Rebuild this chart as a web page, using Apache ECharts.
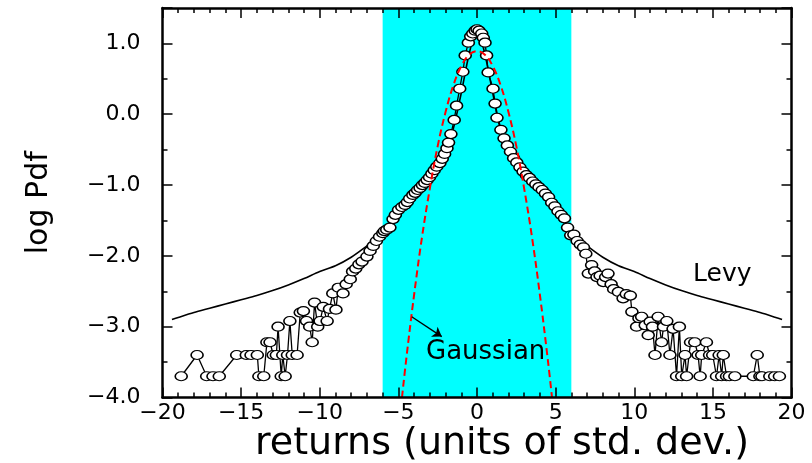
<!DOCTYPE html>
<html>
<head>
<meta charset="utf-8">
<script src="https://cdn.jsdelivr.net/npm/echarts@6/dist/echarts.min.js"></script>
<style>
html,body{margin:0;padding:0;background:#fff;}
#chart{width:812px;height:463px;}
</style>
</head>
<body>
<div id="chart"></div>
<script>
// ---- data ----
const xRange = [-20, 20];
const yRange = [-4, 1.5];
const bandRange = [-6, 6];

// empirical pdf (log10), left tail
const tailLeft = [
 [-18.81,-3.7],[-17.80,-3.4],[-17.19,-3.7],[-16.79,-3.7],[-16.39,-3.7],[-15.28,-3.4],
 [-14.67,-3.4],[-14.37,-3.4],[-13.97,-3.4],[-13.87,-3.7],[-13.56,-3.7],[-13.36,-3.22],
 [-13.16,-3.22],[-12.96,-3.4],[-12.76,-3.4],[-12.65,-3.0],[-12.45,-3.7],[-12.35,-3.4],
 [-12.20,-3.7],[-12.05,-3.4],[-11.90,-2.92],[-11.75,-3.4],[-11.44,-3.4],[-11.24,-2.8],
 [-11.04,-2.78],[-10.84,-2.92],[-10.64,-3.0],[-10.48,-3.22],[-10.33,-2.66],[-10.13,-3.0],
 [-9.98,-2.92],[-9.78,-2.72],[-9.53,-2.92],[-9.38,-2.75],[-9.17,-2.53],[-8.97,-2.76],
 [-8.82,-2.45],[-8.52,-2.53],[-8.32,-2.4],[-8.06,-2.33],[-7.91,-2.22],[-7.71,-2.18],
 [-7.51,-2.12],[-7.31,-2.08],[-7.00,-2.01],[-6.80,-1.93],[-6.60,-1.86],[-6.40,-1.79],
 [-6.20,-1.73],[-5.99,-1.68]
];
// empirical pdf, central part
const core = [
 [-5.89,-1.65],[-5.74,-1.63],[-5.54,-1.6],[-5.34,-1.48],[-5.19,-1.42],[-4.99,-1.35],
 [-4.78,-1.31],[-4.58,-1.28],[-4.43,-1.24],[-4.28,-1.19],[-4.08,-1.14],[-3.93,-1.11],
 [-3.78,-1.07],[-3.62,-1.04],[-3.47,-1.0],[-3.32,-0.97],[-3.17,-0.93],[-3.02,-0.89],
 [-2.87,-0.84],[-2.72,-0.79],[-2.56,-0.74],[-2.36,-0.69],[-2.21,-0.63],[-2.06,-0.56],
 [-1.91,-0.48],[-1.81,-0.4],[-1.66,-0.28],[-1.45,-0.08],[-1.30,0.12],[-1.10,0.36],
 [-0.90,0.6],[-0.75,0.83],[-0.55,1.01],[-0.40,1.1],[-0.27,1.14],[-0.12,1.18],[0.0,1.2],
 [0.13,1.18],[0.30,1.14],[0.40,1.08],[0.51,1.01],[0.61,0.83],[0.71,0.59],[1.02,0.36],
 [1.15,0.15],[1.27,-0.05],[1.52,-0.22],[1.72,-0.34],[1.93,-0.44],[2.13,-0.53],
 [2.33,-0.62],[2.53,-0.68],[2.73,-0.75],[2.93,-0.81],[3.14,-0.86],[3.34,-0.9],
 [3.54,-0.95],[3.74,-0.99],[3.94,-1.03],[4.15,-1.07],[4.35,-1.12],[4.55,-1.17],
 [4.75,-1.25],[4.95,-1.3],[5.15,-1.37],[5.36,-1.42],[5.56,-1.47],[5.76,-1.6],
 [5.96,-1.71],[6.16,-1.7],[6.37,-1.79]
];
// empirical pdf, right tail
const tailRight = [
 [6.57,-1.84],[6.77,-1.88],[6.92,-1.97],[7.08,-2.25],[7.29,-2.13],[7.48,-2.22],
 [7.63,-2.3],[7.83,-2.28],[8.03,-2.37],[8.18,-2.3],[8.33,-2.25],[8.53,-2.4],
 [8.69,-2.47],[8.99,-2.51],[9.29,-2.6],[9.49,-2.54],[9.75,-2.56],[9.85,-2.79],
 [10.15,-3.0],[10.30,-2.88],[10.47,-2.86],[10.70,-2.98],[10.89,-3.12],[11.01,-2.93],
 [11.16,-3.0],[11.32,-3.4],[11.52,-2.86],[11.74,-3.22],[11.86,-3.0],[12.07,-2.92],
 [12.27,-3.4],[12.47,-3.03],[12.69,-3.7],[12.87,-3.0],[13.02,-3.7],[13.23,-3.4],
 [13.33,-3.7],[13.58,-3.22],[13.85,-3.22],[14.06,-3.4],[14.19,-3.7],[14.29,-3.4],
 [14.59,-3.22],[14.79,-3.4],[14.99,-3.4],[15.23,-3.7],[15.40,-3.4],[15.56,-3.7],
 [15.66,-3.4],[15.87,-3.7],[16.05,-3.7],[16.40,-3.7],[17.57,-3.7],[17.82,-3.4],
 [17.99,-3.7],[18.12,-3.7],[18.62,-3.7],[18.93,-3.7],[19.23,-3.7]
];
// Levy stable fit
const levyX = [-19.4,-19,-18,-17,-16,-15,-14,-13,-12,-11,-10,-9,-8,-7,-6,-5.5,-5,-4.5,-4,-3.5,-3,-2.5,-2,-1.5,-1,-0.5,0,
               0.5,1,1.5,2,2.5,3,3.5,4,4.5,5,5.5,6,7,8,9,10,11,12,13,14,15,16,17,18,19,19.4];
const levyY = [-2.9,-2.87,-2.8,-2.74,-2.68,-2.62,-2.56,-2.49,-2.41,-2.32,-2.22,-2.14,-2.02,-1.86,-1.69,-1.52,-1.36,-1.23,-1.1,-0.97,-0.86,-0.73,-0.52,-0.2,0.3,0.85,1.2,
               0.85,0.3,-0.2,-0.52,-0.73,-0.86,-0.97,-1.1,-1.23,-1.36,-1.52,-1.69,-1.86,-2.02,-2.14,-2.22,-2.32,-2.41,-2.49,-2.56,-2.62,-2.68,-2.74,-2.8,-2.87,-2.9];
// Gaussian fit
const gaussX = [-4.77,-4.5,-4,-3.5,-3,-2.5,-2,-1.5,-1,-0.5,0,0.5,1,1.5,2,2.5,3,3.5,4,4.5,4.77];
const gaussY = [-4.0,-3.46,-2.55,-1.74,-1.05,-0.45,0.03,0.41,0.68,0.84,0.89,0.84,0.68,0.41,0.03,-0.45,-1.05,-1.74,-2.55,-3.46,-4.0];
// annotations
const levyLabel = {text: 'Levy', at: [15.6, -2.26]};
const gaussLabel = {text: 'Gaussian', at: [0.55, -3.36]};
const gaussArrow = [[-4.15, -2.86], [-2.24, -3.14]];

// ---- chart ----
const FONT = 'DejaVu Sans';
const empirical = tailLeft.concat(core, tailRight);
const levy = levyX.map((x, i) => [x, levyY[i]]);
const gauss = gaussX.map((x, i) => [x, gaussY[i]]);

const fmtY = v => (Math.abs(v - Math.round(v)) > 1e-9) ? '' : (v < 0 ? '\u2212' : '') + Math.abs(v).toFixed(1);
const fmtX = v => (v < 0 ? '\u2212' : '') + Math.abs(v);

const axisCommon = {
  z: 6,
  axisLine: {show: true, onZero: false, lineStyle: {color: '#000', width: 2.5}},
  axisTick: {show: true, inside: true, length: 10, lineStyle: {color: '#000', width: 1.5}},
  minorTick: {show: true, length: 5, lineStyle: {color: '#000', width: 1.5}},
  splitLine: {show: false}
};
function xAxisDef(pos, labels) {
  return Object.assign({}, axisCommon, {
    type: 'value', position: pos, min: xRange[0], max: xRange[1], interval: 5,
    minorTick: Object.assign({}, axisCommon.minorTick, {splitNumber: 5}),
    axisLabel: {show: labels, formatter: fmtX, fontFamily: FONT, fontSize: 22, color: '#000', margin: 5},
    name: labels ? 'returns (units of std. dev.)' : '',
    nameLocation: 'middle', nameGap: 28, nameMoveOverlap: false,
    nameTextStyle: {fontFamily: FONT, fontSize: 38, color: '#000', padding: [0, 0, 0, 50]}
  });
}
function yAxisDef(pos, labels) {
  return Object.assign({}, axisCommon, {
    type: 'value', position: pos, min: yRange[0], max: yRange[1], interval: 1,
    minorTick: Object.assign({}, axisCommon.minorTick, {splitNumber: 2}),
    axisLabel: {show: labels, formatter: fmtY, fontFamily: FONT, fontSize: 22, color: '#000', margin: 22},
    name: labels ? 'log Pdf' : '',
    nameLocation: 'middle', nameGap: 108, nameRotate: 90, nameMoveOverlap: false,
    nameTextStyle: {fontFamily: FONT, fontSize: 30, color: '#000'}
  });
}

const chart = echarts.init(document.getElementById('chart'), null, {renderer: 'canvas'});
chart.setOption({
  animation: false,
  backgroundColor: '#fff',
  grid: {left: 162.5, right: 20.5, top: 8, bottom: 65.5, containLabel: false, outerBoundsMode: 'none'},
  xAxis: [xAxisDef('bottom', true), xAxisDef('top', false)],
  yAxis: [yAxisDef('left', true), yAxisDef('right', false)],
  series: [
    {
      name: 'band', type: 'line', data: [], xAxisIndex: 0, yAxisIndex: 0, z: 1,
      markArea: {silent: true, z: 1, itemStyle: {color: '#00ffff', opacity: 1},
        data: [[{xAxis: bandRange[0]}, {xAxis: bandRange[1]}]]}
    },
    {
      name: 'Levy', type: 'line', data: levy, smooth: 0.3, showSymbol: false, symbol: 'none', z: 2,
      lineStyle: {color: '#000', width: 1.6},
      markPoint: {symbol: 'circle', symbolSize: 1, itemStyle: {color: 'rgba(0,0,0,0)'},
        label: {show: true, position: 'inside', formatter: levyLabel.text, fontFamily: FONT, fontSize: 25, color: '#000'},
        data: [{coord: levyLabel.at}]}
    },
    {
      name: 'data', type: 'line', data: empirical, z: 3,
      symbol: 'circle', symbolSize: [12, 9], showAllSymbol: true,
      itemStyle: {color: '#fff', borderColor: '#000', borderWidth: 1.4},
      lineStyle: {color: '#000', width: 1.3}
    },
    {
      name: 'Gaussian', type: 'line', data: gauss, smooth: 0.4, symbol: 'none', z: 4,
      lineStyle: {color: '#ff0000', width: 2, type: [7, 4]},
      markLine: {silent: true, symbol: ['none', 'arrow'], symbolSize: 9,
        lineStyle: {color: '#000', width: 1.3, type: 'solid'}, label: {show: false},
        data: [[{coord: gaussArrow[0]}, {coord: gaussArrow[1]}]]},
      markPoint: {symbol: 'circle', symbolSize: 1, itemStyle: {color: 'rgba(0,0,0,0)'},
        label: {show: true, position: 'inside', formatter: gaussLabel.text, fontFamily: FONT, fontSize: 26, color: '#000'},
        data: [{coord: gaussLabel.at}]}
    }
  ]
});
</script>
</body>
</html>
